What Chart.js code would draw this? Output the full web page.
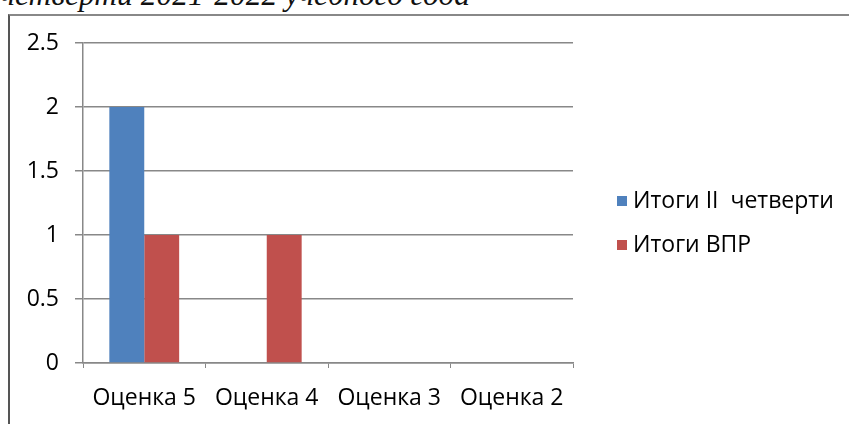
<!DOCTYPE html>
<html>
<head>
<meta charset="utf-8">
<script src="https://cdn.jsdelivr.net/npm/chart.js@4.4.1/dist/chart.umd.min.js"></script>
<style>
  html, body { margin: 0; padding: 0; background: #fff; overflow: hidden; }
  #wrap { position: relative; width: 849px; height: 424px; }
  #title { position: absolute; left: 0; top: -21px; font-family: "Liberation Serif", serif; font-style: italic; font-size: 31.5px; color: #111; white-space: nowrap; line-height: 1; }
  #frame { position: absolute; left: 8px; top: 14px; right: -10px; bottom: -10px; border-left: 2px solid #555; border-top: 2px solid #888; }
  canvas { position: absolute; left: 0; top: 0; }
</style>
</head>
<body>
<div id="wrap">
  <div id="title">четверти 2021-2022 учебного года</div>
  <div id="frame"></div>
  <canvas id="c" width="849" height="424"></canvas>
</div>
<script>
const categories = ["Оценка 5", "Оценка 4", "Оценка 3", "Оценка 2"];
const seriesNames = ["Итоги II  четверти", "Итоги ВПР"];
const quarterValues = [2, 0, 0, 0];
const vprValues = [1, 1, 0, 0];
const yTicks = [0, 0.5, 1, 1.5, 2, 2.5];

const FONT = '"Open Sans", sans-serif';
const FS = 23;

const legendPlugin = {
  id: 'customLegend',
  afterDraw(chart) {
    const ctx = chart.ctx;
    ctx.save();
    ctx.font = FS + 'px ' + FONT;
    ctx.textBaseline = 'middle';
    chart.data.datasets.forEach((ds, i) => {
      const y = 201 + i * 44;
      ctx.fillStyle = ds.backgroundColor;
      ctx.fillRect(617, y - 5, 10, 10);
      ctx.fillStyle = '#000';
      ctx.fillText(ds.label, 633, y);
    });
    ctx.restore();
  }
};

new Chart(document.getElementById('c'), {
  type: 'bar',
  data: {
    labels: categories,
    datasets: [
      { label: seriesNames[0], data: quarterValues, backgroundColor: '#4F81BD' },
      { label: seriesNames[1], data: vprValues, backgroundColor: '#C0504D' }
    ]
  },
  options: {
    responsive: false,
    animation: false,
    devicePixelRatio: 1,
    layout: { padding: { left: 0, right: 276, top: 43, bottom: 0 } },
    plugins: { legend: { display: false }, tooltip: { enabled: false }, title: { display: false } },
    datasets: { bar: { categoryPercentage: 0.57, barPercentage: 1.0 } },
    scales: {
      x: {
        grid: { display: true, offset: true, drawOnChartArea: false, drawTicks: true, tickLength: 5, color: '#888' },
        border: { display: true, color: '#888', width: 1.5 },
        ticks: { color: '#000', font: { family: FONT, size: FS }, padding: 17, maxRotation: 0, autoSkip: false },
        afterFit(scale) { scale.height = 61; }
      },
      y: {
        min: 0, max: 2.5,
        afterBuildTicks(scale) { scale.ticks = yTicks.map(v => ({ value: v })); },
        grid: { color: '#888', lineWidth: 1.5, tickLength: 8, drawTicks: true },
        border: { display: true, color: '#888', width: 1.5 },
        ticks: { color: '#000', font: { family: FONT, size: FS }, padding: 16, callback: v => String(v) },
        afterFit(scale) { scale.width = 83; }
      }
    }
  },
  plugins: [legendPlugin]
});
</script>
</body>
</html>
